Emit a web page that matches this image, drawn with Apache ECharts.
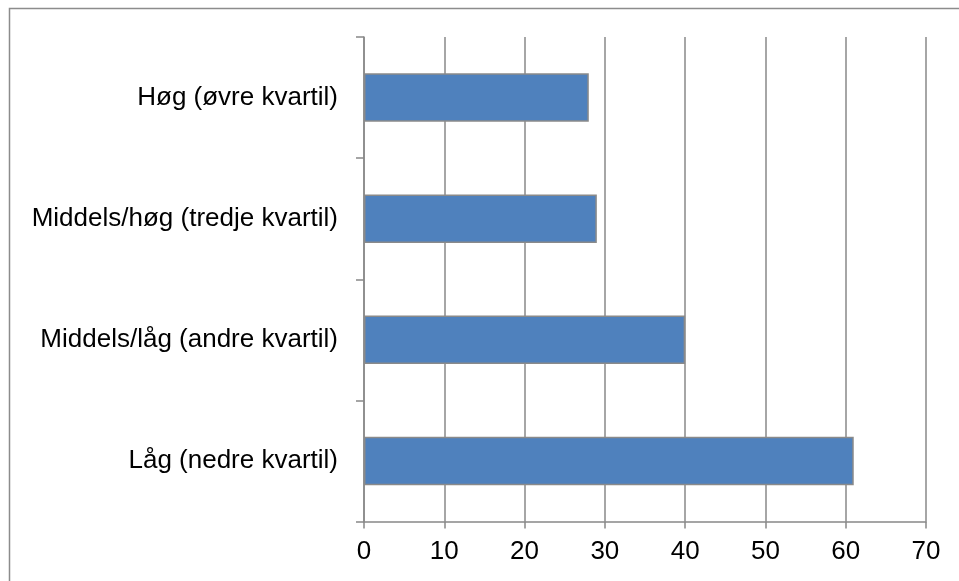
<!DOCTYPE html>
<html>
<head>
<meta charset="utf-8">
<script src="https://cdn.jsdelivr.net/npm/echarts@6/dist/echarts.min.js"></script>
<style>
  html, body { margin: 0; padding: 0; background: #fff; }
  #chart { width: 959px; height: 581px; }
</style>
</head>
<body>
<div id="chart"></div>
<script>
// Categories listed top to bottom
const categories = [
  'Høg (øvre kvartil)',
  'Middels/høg (tredje kvartil)',
  'Middels/låg (andre kvartil)',
  'Låg (nedre kvartil)'
];
const values = [28, 29, 40, 61];
const xTicks = [0, 10, 20, 30, 40, 50, 60, 70];

const gridColor = '#888888';
const font = 'Liberation Sans, Arial, sans-serif';

const chart = echarts.init(document.getElementById('chart'), null, { renderer: 'canvas' });

chart.setOption({
  animation: false,
  backgroundColor: '#ffffff',
  graphic: [{
    type: 'rect',
    shape: { x: 9.5, y: 8.5, width: 1000, height: 1000 },
    style: { fill: 'none', stroke: '#8c8c8c', lineWidth: 1.5 },
    silent: true
  }],
  grid: { left: 364, right: 33, top: 37, bottom: 59.5 },
  xAxis: {
    type: 'value',
    min: xTicks[0],
    max: xTicks[xTicks.length - 1],
    interval: 10,
    axisLine: { show: true, lineStyle: { color: gridColor, width: 1.5 } },
    axisTick: { show: true, length: 7, lineStyle: { color: gridColor, width: 1.5 } },
    splitLine: { show: true, lineStyle: { color: gridColor, width: 1.5 } },
    axisLabel: { color: '#000', fontSize: 26, fontFamily: font, margin: 17 }
  },
  yAxis: {
    type: 'category',
    data: categories,
    inverse: true,
    axisLine: { show: true, lineStyle: { color: gridColor, width: 1.5 } },
    axisTick: { show: true, length: 8, alignWithLabel: false, lineStyle: { color: gridColor, width: 1.5 } },
    axisLabel: { color: '#000', fontSize: 26, fontFamily: font, margin: 26 }
  },
  series: [{
    type: 'bar',
    data: values,
    barWidth: '40%',
    itemStyle: { color: '#4F81BD', borderColor: '#8a8a8a', borderWidth: 1.5 }
  }]
});
</script>
</body>
</html>
